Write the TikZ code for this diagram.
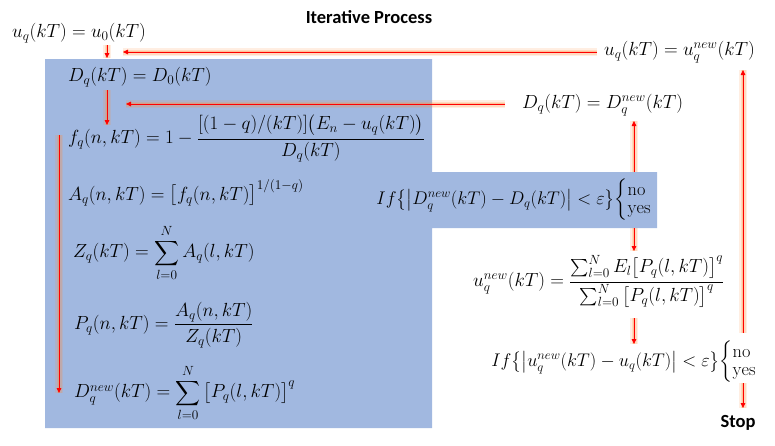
\RequirePackage{fix-cm}
\documentclass[tikz,border=0pt]{standalone}
\usepackage{amsmath}
\usepackage{fontspec}
\newfontfamily\calib{Carlito}
\usetikzlibrary{arrows.meta}
\definecolor{boxblue}{RGB}{161,184,224}
\definecolor{glow}{RGB}{255,140,60}
\tikzset{
  eq/.style={anchor=west,inner sep=0pt,font=\fontsize{19}{23}\selectfont},
  eqr/.style={anchor=east,inner sep=0pt,font=\fontsize{18.3}{22}\selectfont},
  lbl/.style={inner sep=0pt,font=\calib\bfseries\fontsize{18.5}{22}\selectfont},
  arr/.style={draw=red, line width=0.9pt, -{Triangle[length=5pt,width=4.5pt]},
    preaction={draw=glow, line width=8pt, opacity=0.15, -},
    preaction={draw=glow, line width=5pt, opacity=0.2, -},
    preaction={draw=glow, line width=2.5pt, opacity=0.3, -}},
}
\begin{document}
\begin{tikzpicture}[x=1pt,y=-1pt]
\useasboundingbox (0,0) rectangle (775,445);
\fill[boxblue] (45,59) -- (432,59) -- (432,172) -- (657,172) -- (657,228) -- (432,228) -- (432,428) -- (45,428) -- cycle;

\node[lbl] (title) at (369,17) {Iterative Process};
\node[eq] (u0) at (12,33) {$u_q(kT)=u_0(kT)$};
\node[eq] (D0) at (68,77) {$D_q(kT)=D_0(kT)$};
\node[eq] (fq) at (68,138) {$f_q(n,kT)=1-\dfrac{[(1-q)/(kT)]\big(E_n-u_q(kT)\big)}{D_q(kT)}$};
\node[eq] (Aq) at (68,193) {$A_q(n,kT)=\big[f_q(n,kT)\big]^{1/(1-q)}$};
\node[eq] (Zq) at (73,253) {$Z_q(kT)=\displaystyle\sum_{l=0}^{N}A_q(l,kT)$};
\node[eq] (Pq) at (74,325) {$P_q(n,kT)=\dfrac{A_q(n,kT)}{Z_q(kT)}$};
\node[eq] (Dn) at (74,393) {$D_q^{new}(kT)=\displaystyle\sum_{l=0}^{N}\big[P_q(l,kT)\big]^q$};
\node[eqr] (ifD) at (652,200) {$If\big\{\big|D_q^{new}(kT)-D_q(kT)\big|<\varepsilon\big\}\!\left\{\begin{array}{@{}l@{}}\mathrm{no}\\[-4pt]\mathrm{yes}\end{array}\right.$};
\node[eq] (DqD) at (522,105) {$D_q(kT)=D_q^{new}(kT)$};
\node[eq] (uqU) at (604,52) {$u_q(kT)=u_q^{new}(kT)$};
\node[eq] (un) at (473,282) {$u_q^{new}(kT)=\dfrac{\sum_{l=0}^{N}E_l\big[P_q(l,kT)\big]^q}{\sum_{l=0}^{N}\big[P_q(l,kT)\big]^q}$};
\node[eqr] (ifU) at (757,362) {$If\big\{\big|u_q^{new}(kT)-u_q(kT)\big|<\varepsilon\big\}\!\left\{\begin{array}{@{}l@{}}\mathrm{no}\\[-4pt]\mathrm{yes}\end{array}\right.$};
\node[lbl] (stop) at (738,423) {Stop};

\coordinate (c1) at (107,45);  \coordinate (c2) at (107,58);
\coordinate (c3) at (107,90);  \coordinate (c4) at (107,125);
\coordinate (c5) at (505,104); \coordinate (c6) at (126,104);
\coordinate (c7) at (597,52);  \coordinate (c8) at (123,52);
\coordinate (c9) at (634,172); \coordinate (c10) at (634,121);
\coordinate (c11) at (743,333);\coordinate (c12) at (743,70);
\coordinate (c13) at (59,135); \coordinate (c14) at (59,393);
\coordinate (c15) at (634,228);\coordinate (c16) at (634,251);
\coordinate (c17) at (634,318);\coordinate (c18) at (634,344);
\coordinate (c19) at (743,383);\coordinate (c20) at (743,408);

\draw[arr] (c1) -- (c2);
\draw[arr] (c3) -- (c4);
\draw[arr] (c5) -- (c6);
\draw[arr] (c7) -- (c8);
\draw[arr] (c9) -- (c10);
\draw[arr] (c11) -- (c12);
\draw[arr] (c13) -- (c14);
\draw[arr] (c15) -- (c16);
\draw[arr] (c17) -- (c18);
\draw[arr] (c19) -- (c20);
\end{tikzpicture}
\end{document}
